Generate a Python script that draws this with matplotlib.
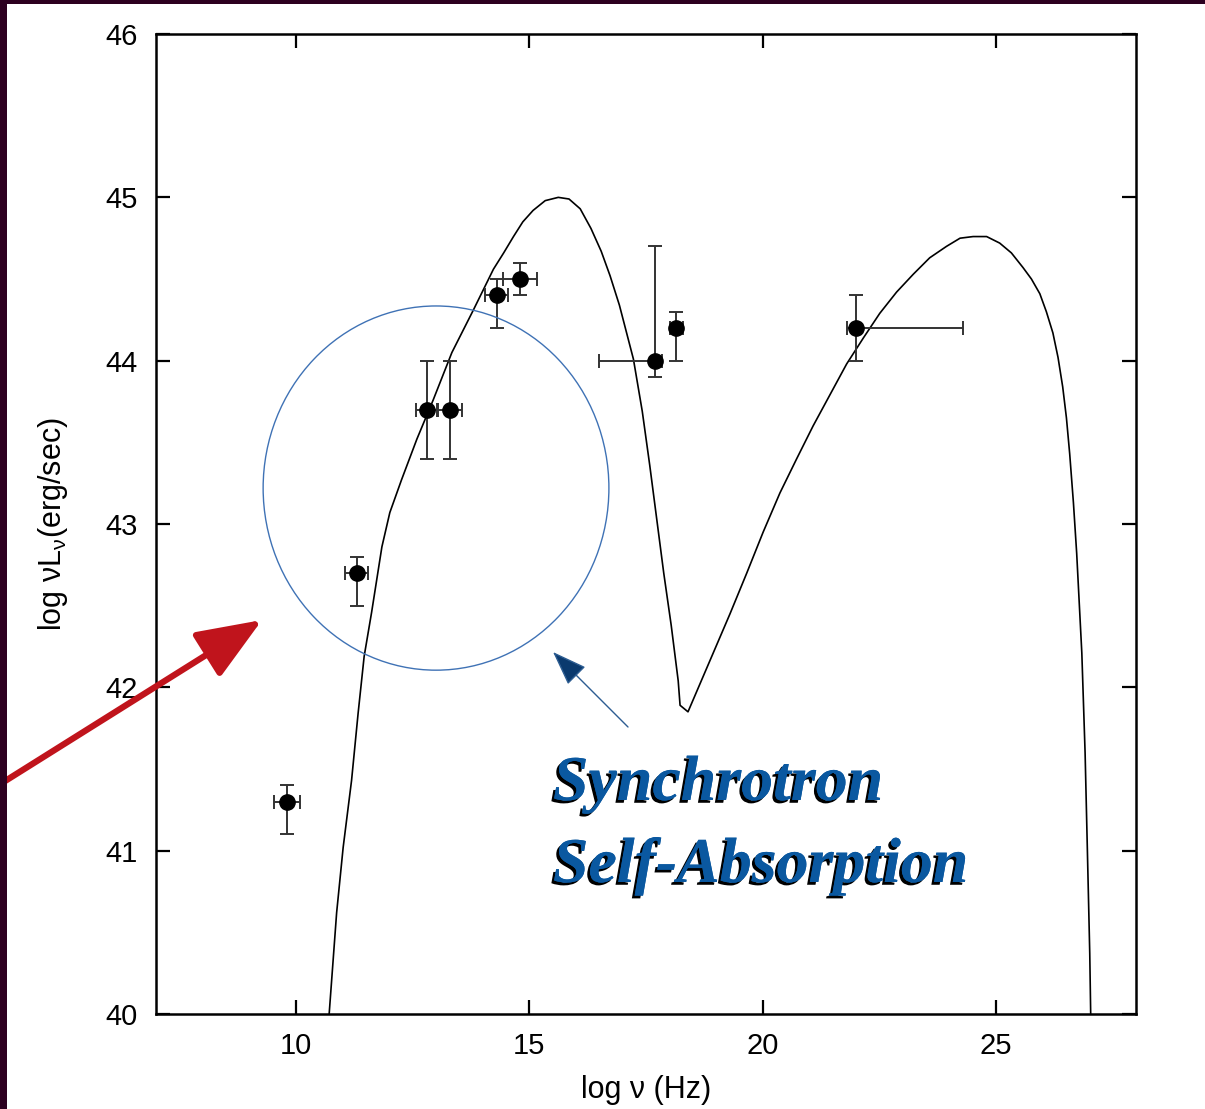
import matplotlib
matplotlib.use("Agg")
import matplotlib.pyplot as plt
import matplotlib.patches as mpatches
import matplotlib.patheffects as pe

plt.rcParams['font.family'] = ['Liberation Sans', 'DejaVu Sans']
plt.rcParams['mathtext.default'] = 'regular'

# observed SED points: log nu, log nuLnu and their error bars
nu_obs = [9.8, 11.3, 12.8, 13.3, 14.3, 14.8, 17.7, 18.15, 22.0]
lum_obs = [41.3, 42.7, 43.7, 43.7, 44.4, 44.5, 44.0, 44.2, 44.2]
lum_err_lo = [0.2, 0.2, 0.3, 0.3, 0.2, 0.1, 0.1, 0.2, 0.2]
lum_err_hi = [0.1, 0.1, 0.3, 0.3, 0.1, 0.1, 0.7, 0.1, 0.2]
nu_err_lo = [0.28, 0.25, 0.23, 0.25, 0.25, 0.36, 1.2, 0.14, 0.2]
nu_err_hi = [0.28, 0.25, 0.23, 0.25, 0.25, 0.36, 0.15, 0.14, 2.29]

# model curve: synchrotron hump, then inverse Compton hump
nu_model = [10.71, 10.87, 11.01, 11.19, 11.33, 11.46, 11.62, 11.84, 12.01,
            12.26, 12.59, 12.94, 13.34, 13.80, 14.23, 14.45, 14.66, 14.86,
            15.08, 15.34, 15.62, 15.85, 16.09, 16.32, 16.54, 16.73, 16.93,
            17.23, 17.42, 17.58, 17.73, 17.88, 18.04, 18.19, 18.23, 18.40,
            18.94, 19.30, 19.66, 20.01, 20.37, 20.73, 21.08, 21.44, 21.80,
            22.16, 22.51, 22.87, 23.23, 23.58, 23.94, 24.23, 24.51, 24.80,
            25.08, 25.33, 25.58, 25.76, 25.94, 26.08, 26.22, 26.33, 26.43,
            26.51, 26.58, 26.66, 26.73, 26.84, 26.91, 26.96, 27.01, 27.03]
lum_model = [40.00, 40.62, 41.02, 41.43, 41.84, 42.19, 42.46, 42.86, 43.07,
             43.27, 43.52, 43.76, 44.05, 44.31, 44.56, 44.66, 44.76, 44.85,
             44.92, 44.98, 45.00, 44.99, 44.93, 44.81, 44.67, 44.52, 44.34,
             44.01, 43.69, 43.36, 43.03, 42.70, 42.38, 42.04, 41.89, 41.85,
             42.21, 42.45, 42.70, 42.95, 43.19, 43.40, 43.60, 43.79, 43.98,
             44.14, 44.29, 44.42, 44.53, 44.63, 44.70, 44.75, 44.76, 44.76,
             44.72, 44.66, 44.57, 44.50, 44.41, 44.30, 44.17, 44.02, 43.84,
             43.65, 43.43, 43.13, 42.82, 42.21, 41.60, 40.99, 40.37, 40.00]

xticks = [10, 15, 20, 25]
yticks = [40, 41, 42, 43, 44, 45, 46]

fig = plt.figure(figsize=(12.05, 11.09), dpi=100, facecolor='white')
ax = fig.add_axes([0.1295, 0.0857, 0.8132, 0.8836])

ax.plot(nu_model, lum_model, color='black', lw=1.2, zorder=2)
ax.errorbar(nu_obs, lum_obs,
            xerr=[nu_err_lo, nu_err_hi], yerr=[lum_err_lo, lum_err_hi],
            fmt='o', color='black', ms=11, ecolor='#333333', elinewidth=1.4,
            capsize=5, capthick=1.4, zorder=3)

# region where self-absorption matters
ax.add_patch(mpatches.Ellipse((13.0, 43.22), 7.41, 2.23, fill=False,
                              edgecolor='#3f72b5', lw=1.0, zorder=4))

ax.set_xlim(7, 28)
ax.set_ylim(40, 46)
ax.set_xticks(xticks)
ax.set_yticks(yticks)
ax.tick_params(direction='in', length=10, width=1.6, labelsize=21, pad=13,
               top=True, right=True)
for s in ax.spines.values():
    s.set_linewidth(1.8)

ax.set_xlabel('log ν (Hz)', fontsize=22, labelpad=11)
ax.set_ylabel('log νL$_ν$(erg/sec)', fontsize=22, labelpad=26)

# arrows
ax.annotate('', xy=(553, 1109 - 652), xycoords='figure pixels',
            xytext=(628, 1109 - 727), textcoords='figure pixels',
            arrowprops=dict(arrowstyle='-|>,head_length=1.1,head_width=0.4',
                            mutation_scale=20, facecolor='#0b3a6e',
                            edgecolor='#2d5d92', lw=1.0, shrinkA=0, shrinkB=0),
            annotation_clip=False)
ax.annotate('', xy=(262, 1109 - 620), xycoords='figure pixels',
            xytext=(-6, 1109 - 788), textcoords='figure pixels',
            arrowprops=dict(arrowstyle='-|>,head_length=2.0,head_width=0.8',
                            mutation_scale=20, color='#c0141c', lw=4.5,
                            shrinkA=0, shrinkB=0),
            annotation_clip=False)

shadow = [pe.withSimplePatchShadow(offset=(-2, -2), shadow_rgbFace='black',
                                   alpha=1.0), pe.Normal()]
for txt, ybase in [('Synchrotron', 800), ('Self-Absorption', 882)]:
    fig.text(553 / 1205, 1 - ybase / 1109, txt, family='Liberation Serif',
             style='italic', weight='bold', fontsize=46, color='#0a58a0',
             ha='left', va='baseline', path_effects=shadow)

# dark border strips
fig.add_artist(mpatches.Rectangle((0, 0), 7 / 1205, 1, transform=fig.transFigure,
                                  color='#2d0020', lw=0))
fig.add_artist(mpatches.Rectangle((0, 1 - 4 / 1109), 1, 4 / 1109,
                                  transform=fig.transFigure, color='#2d0020', lw=0))

fig.savefig('out.png', dpi=100, facecolor='white')
